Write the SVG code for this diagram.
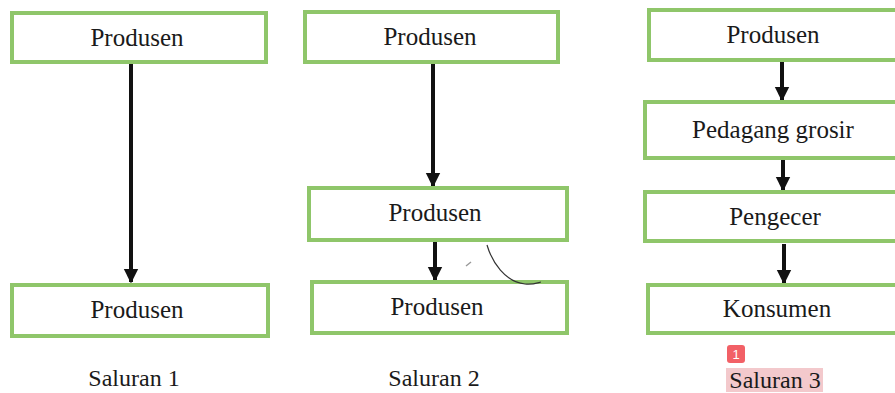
<svg xmlns="http://www.w3.org/2000/svg" width="895" height="393" viewBox="0 0 895 393">
<style>
.box{fill:#fff;stroke:#8fc66a;stroke-width:4}
.t{font-family:"Liberation Serif","Times New Roman",serif;font-size:25px;fill:#1a1a1a;text-anchor:middle}
.cap{font-family:"Liberation Serif","Times New Roman",serif;font-size:24px;fill:#1a1a1a;text-anchor:middle}
.arr{stroke:#111;stroke-width:4;fill:none;marker-end:url(#ah)}
</style>
<defs>
<marker id="ah" viewBox="0 0 10 10" refX="9" refY="5" markerWidth="3.6" markerHeight="4" markerUnits="strokeWidth" orient="auto">
<path d="M0,0 L10,5 L0,10 z" fill="#111"/>
</marker>
</defs>
<rect width="895" height="393" fill="#fff"/>
<g id="connectors">
<line class="arr" x1="131" y1="64" x2="131" y2="282"/>
<line class="arr" x1="433" y1="64" x2="433" y2="186"/>
<line class="arr" x1="435" y1="242" x2="435" y2="280"/>
<line class="arr" x1="782" y1="62" x2="782" y2="100"/>
<line class="arr" x1="783" y1="160" x2="783" y2="190"/>
<line class="arr" x1="784" y1="244" x2="784" y2="283"/>
</g>
<g id="s1-produsen-top"><rect class="box" x="12" y="13" width="254" height="49"/><text class="t" x="137" y="46">Produsen</text></g>
<g id="s1-produsen-bottom"><rect class="box" x="12" y="285" width="256" height="51"/><text class="t" x="137" y="318">Produsen</text></g>
<g id="s2-produsen-top"><rect class="box" x="305" y="12" width="253" height="50"/><text class="t" x="430" y="45">Produsen</text></g>
<g id="s2-produsen-mid"><rect class="box" x="309" y="188" width="258" height="52"/><text class="t" x="435" y="221">Produsen</text></g>
<g id="s2-produsen-bottom"><rect class="box" x="312" y="282" width="255" height="51"/><text class="t" x="437" y="315">Produsen</text></g>
<g id="s3-produsen"><rect class="box" x="649" y="10" width="260" height="50"/><text class="t" x="773" y="43">Produsen</text></g>
<g id="s3-grosir"><rect class="box" x="645" y="102" width="264" height="56"/><text class="t" x="773" y="138">Pedagang grosir</text></g>
<g id="s3-pengecer"><rect class="box" x="645" y="192" width="264" height="49"/><text class="t" x="775" y="225">Pengecer</text></g>
<g id="s3-konsumen"><rect class="box" x="648" y="285" width="261" height="48"/><text class="t" x="777" y="317">Konsumen</text></g>
<g id="captions">
<text class="cap" x="134" y="386">Saluran 1</text>
<text class="cap" x="434" y="386">Saluran 2</text>
<rect x="726" y="368" width="97" height="24" fill="#f3c9cc"/>
<text class="cap" x="775" y="388">Saluran 3</text>
<rect x="727" y="345" width="18" height="18" rx="3" fill="#f26066"/>
<text x="736" y="359" font-family="Liberation Sans, Arial, sans-serif" font-size="13" fill="#fff" text-anchor="middle">1</text>
</g>
<g id="pen-marks" fill="none">
<path d="M487,245 C492,262 505,282 525,284 C532,285 537,283 541,282" stroke="#333" stroke-width="1.2"/>
<path d="M466,266 L471,262" stroke="#999" stroke-width="1.5"/>
</g>
</svg>
